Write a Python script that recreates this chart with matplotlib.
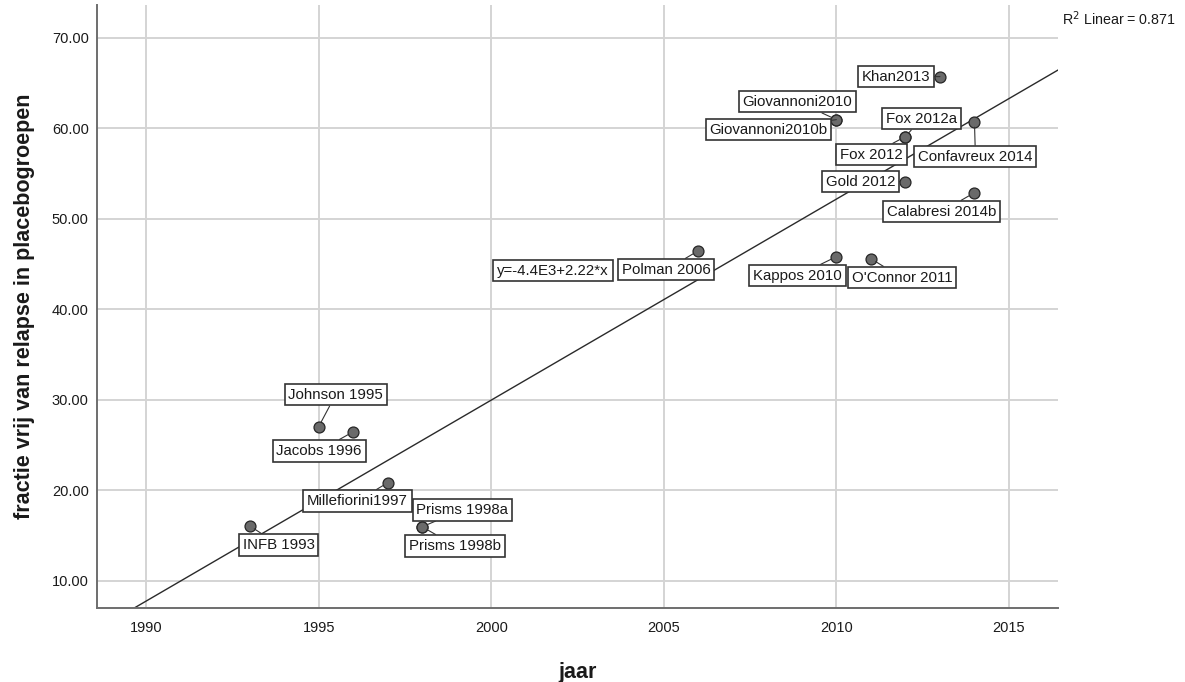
import numpy as np
import matplotlib
matplotlib.use('Agg')
import matplotlib.pyplot as plt
import matplotlib.ticker as ticker

plt.rcParams['font.family'] = ['Liberation Sans', 'DejaVu Sans']

# ── data: year of study vs. relapse-free fraction in placebo arm ──
studies = ['INFB 1993', 'Johnson 1995', 'Jacobs 1996', 'Millefiorini1997',
           'Prisms 1998a', 'Prisms 1998b', 'Polman 2006', 'Giovannoni2010',
           'Giovannoni2010b', 'Kappos 2010', "O'Connor 2011", 'Fox 2012',
           'Fox 2012a', 'Gold 2012', 'Khan2013', 'Confavreux 2014',
           'Calabresi 2014b']
jaar = [1993, 1995, 1996, 1997, 1998, 1998, 2006, 2010, 2010, 2010, 2011,
        2012, 2012, 2012, 2013, 2014, 2014]
fractie = [16.08, 27.02, 26.46, 20.83, 15.97, 15.97, 46.46, 60.94, 60.94,
           45.80, 45.58, 59.06, 59.06, 54.09, 65.69, 60.72, 52.87]

# label offsets (pixels) of the text boxes relative to their point
label_offsets = [(29, -19), (17, 32), (-34, -19), (-30, -18), (40, 17),
                 (33, -19), (-32, -19), (-39, 18), (-68, -10), (-39, -19),
                 (31, -19), (-34, -18), (16, 18), (-45, 0), (-44, 0),
                 (1, -35), (-33, -19)]

slope = 2.22
r2 = 0.871
intercept = np.mean(fractie) - slope * np.mean(jaar)

GRID = '#d4d4d4'
EDGE = '#333333'
TXT = '#1a1a1a'

fig = plt.figure(figsize=(11.85, 6.82), dpi=100, facecolor='white')
ax = fig.add_axes([0.0819, 0.1085, 0.8109, 0.8842])

ax.set_xlim(1988.58, 2016.42)
ax.set_ylim(7.0, 73.6)
ax.set_xticks([1990, 1995, 2000, 2005, 2010, 2015])
ax.set_yticks([10, 20, 30, 40, 50, 60, 70])
ax.yaxis.set_major_formatter(ticker.FormatStrFormatter('%.2f'))
ax.grid(color=GRID, lw=1.4, zorder=0)
ax.set_axisbelow(True)
ax.tick_params(length=0, labelsize=10.5, colors=TXT)
ax.tick_params(axis='y', pad=6)
ax.tick_params(axis='x', pad=9)
for side in ['top', 'right']:
    ax.spines[side].set_visible(False)
for side in ['left', 'bottom']:
    ax.spines[side].set_color('#6e6e6e')
    ax.spines[side].set_linewidth(1.4)

# fit line
xs = np.array(ax.get_xlim())
ax.plot(xs, intercept + slope * xs, color='#2a2a2a', lw=1.0, zorder=2)

# points
ax.scatter(jaar, fractie, s=62, color='#6a6a6a', edgecolors='#262626',
           linewidths=0.9, zorder=4)

box = dict(boxstyle='square,pad=0.25', fc='white', ec=EDGE, lw=1.2)
for name, x, y, (dx, dy) in zip(studies, jaar, fractie, label_offsets):
    ax.annotate(name, xy=(x, y), xytext=(dx, dy), textcoords='offset pixels',
                ha='center', va='center', fontsize=10.8, color=TXT, bbox=box,
                arrowprops=dict(arrowstyle='-', color=EDGE, lw=0.8,
                                shrinkA=0, shrinkB=4),
                zorder=5)

ax.text(2001.79, 44.25, 'y=-4.4E3+2.22*x', ha='center', va='center',
        fontsize=10.8, color=TXT, bbox=box, zorder=5)

fig.text(1062 / 1185, 1 - 19 / 682, f'R$^2$ Linear = {r2:.3f}',
         ha='left', va='center', fontsize=10.3, color=TXT)

ax.set_xlabel('jaar', fontsize=15.5, fontweight='bold', color=TXT,
              labelpad=20)
ax.set_ylabel('fractie vrij van relapse in placebogroepen', fontsize=15.5,
              fontweight='bold', color=TXT, labelpad=12)

fig.savefig('out.png', dpi=100, facecolor='white')
